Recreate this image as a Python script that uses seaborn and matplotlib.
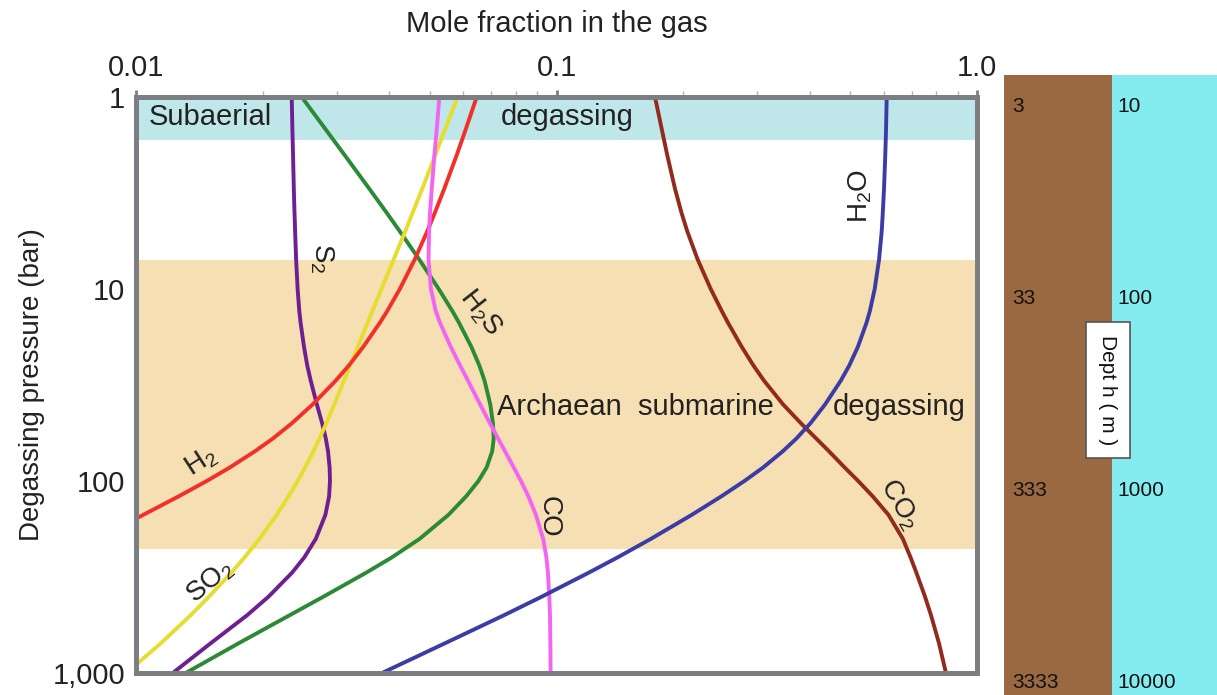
import matplotlib
matplotlib.use("Agg")
import matplotlib.pyplot as plt
import pandas as pd
import seaborn as sns
from matplotlib.ticker import LogLocator, NullFormatter, NullLocator

# degassing pressures (bar) at which the curves were read
P = [1, 1.5, 2, 3, 4, 5, 7, 10, 13, 15, 20, 25, 30, 40, 50, 60, 70, 85,
     100, 120, 150, 200, 250, 300, 400, 500, 700, 1000]

# mole fraction in the gas
S2 = [0.02346, 0.02355, 0.02363, 0.02373, 0.02382, 0.02390, 0.02403, 0.02423,
      0.02445, 0.02463, 0.02509, 0.02554, 0.02603, 0.02693, 0.02771, 0.02827,
      0.02862, 0.02887, 0.02893, 0.02879, 0.02821, 0.02677, 0.02513, 0.02351,
      0.02067, 0.01838, 0.01505, 0.01223]
H2S = [0.02478, 0.02841, 0.03131, 0.03586, 0.03943, 0.04238, 0.04712, 0.05247,
       0.05651, 0.05865, 0.06273, 0.06553, 0.06743, 0.06960, 0.07060, 0.07091,
       0.07033, 0.06820, 0.06521, 0.06101, 0.05535, 0.04728, 0.04059, 0.03529,
       0.02793, 0.02320, 0.01754, 0.01313]
CO = [0.05264, 0.05187, 0.05125, 0.05051, 0.05004, 0.04978, 0.04962, 0.05027,
      0.05161, 0.05284, 0.05605, 0.05897, 0.06158, 0.06585, 0.06944, 0.07259,
      0.07544, 0.07913, 0.08231, 0.08570, 0.08934, 0.09294, 0.09463, 0.09541,
      0.09614, 0.09650, 0.09671, 0.09682]
CO2 = [0.1715, 0.1783, 0.1833, 0.1913, 0.1982, 0.2046, 0.2165, 0.2327,
       0.2471, 0.2558, 0.2757, 0.2939, 0.3114, 0.3461, 0.3812, 0.4143,
       0.4446, 0.4843, 0.5218, 0.5646, 0.6158, 0.6663, 0.6950, 0.7174,
       0.7522, 0.7773, 0.8121, 0.8438]
H2O = [0.6099, 0.6076, 0.6052, 0.6010, 0.5970, 0.5935, 0.5850, 0.5711,
       0.5563, 0.5460, 0.5209, 0.4970, 0.4744, 0.4350, 0.4018, 0.3722,
       0.3453, 0.3101, 0.2798, 0.2469, 0.2098, 0.1678, 0.1397, 0.1194,
       0.09232, 0.07503, 0.05430, 0.03846]

# these two leave the plot through the left edge
P_SO2 = [1, 1.5, 2, 3, 4, 5, 7, 10, 13, 15, 20, 25, 30, 40, 50, 60, 70, 85,
         100, 120, 150, 200, 250, 300, 400, 500, 700, 905]
SO2 = [0.05821, 0.05416, 0.05152, 0.04796, 0.04550, 0.04369, 0.04101, 0.03836,
       0.03651, 0.03554, 0.03370, 0.03232, 0.03124, 0.02960, 0.02836, 0.02733,
       0.02642, 0.02525, 0.02424, 0.02307, 0.02162, 0.01966, 0.01812, 0.01686,
       0.01492, 0.01349, 0.01146, 0.0100]
P_H2 = [1, 1.5, 2, 3, 4, 5, 7, 10, 13, 15, 20, 25, 30, 40, 50, 60, 70, 85,
        100, 120, 150, 157]
H2 = [0.0646, 0.06066, 0.05794, 0.05410, 0.05139, 0.04929, 0.04603, 0.04240,
      0.03960, 0.03801, 0.03471, 0.03209, 0.02986, 0.02628, 0.02349, 0.02118,
      0.01918, 0.01672, 0.01473, 0.01265, 0.01041, 0.0100]

# pressure ranges of the two degassing settings (bar)
SUBAERIAL = (1, 1.68)
SUBMARINE = (7.1, 226)

# depth scales next to the pressure axis
DEPTH_P = [1, 10, 100, 1000]
ROCK_DEPTH = ["3", "33", "333", "3333"]
WATER_DEPTH = ["10", "100", "1000", "10000"]

COLORS = {
    "S2": "#6e1f92", "H2S": "#2b8a36", "SO2": "#e6dd2e", "H2": "#f2302a",
    "CO": "#f265f2", "CO2": "#932b1c", "H2O": "#3b3ca6",
}
GRAY = "#7b7e83"

frames = []
for name, pres, frac in [("S2", P, S2), ("H2S", P, H2S), ("SO2", P_SO2, SO2),
                         ("H2", P_H2, H2), ("CO", P, CO), ("CO2", P, CO2),
                         ("H2O", P, H2O)]:
    frames.append(pd.DataFrame({"gas": name, "pressure": pres, "fraction": frac}))
df = pd.concat(frames, ignore_index=True)

sns.set_style("white")
plt.rcParams["font.family"] = ["Liberation Sans", "DejaVu Sans"]
plt.rcParams["mathtext.default"] = "regular"

W, H = 1217, 695
fig = plt.figure(figsize=(W / 100, H / 100), dpi=100)
ax = fig.add_axes([136 / W, 22 / H, 841 / W, 576 / H])
ax.set_xscale("log")
ax.set_yscale("log")

ax.axhspan(*SUBAERIAL, color="#bfe6e8", lw=0, zorder=0)
ax.axhspan(*SUBMARINE, color="#f6dfb2", lw=0, zorder=0)

sns.lineplot(data=df, x="fraction", y="pressure", hue="gas", palette=COLORS,
             sort=False, estimator=None, legend=False, linewidth=2.8, ax=ax)

ax.set_xlim(0.01, 1.0)
ax.set_ylim(1000, 1)

ax.xaxis.tick_top()
ax.xaxis.set_label_position("top")
ax.set_xticks([0.01, 0.1, 1.0], ["0.01", "0.1", "1.0"])
ax.xaxis.set_minor_locator(LogLocator(base=10, subs=range(2, 10)))
ax.xaxis.set_minor_formatter(NullFormatter())
ax.set_yticks([1, 10, 100, 1000], ["1", "10", "100", "1,000"])
ax.yaxis.set_minor_locator(NullLocator())
ax.tick_params(axis="x", which="major", direction="out", length=5, width=2,
               color=GRAY, pad=6, labelsize=21, labelcolor="#222222")
ax.tick_params(axis="x", which="minor", direction="out", length=4, width=1,
               color="#b0b3b8")
ax.tick_params(axis="y", which="major", direction="out", length=5, width=2,
               color=GRAY, pad=3, labelsize=21, labelcolor="#222222")
ax.set_xlabel("Mole fraction in the gas", fontsize=21, labelpad=16, color="#222222")
ax.set_ylabel("Degassing pressure (bar)", fontsize=20, labelpad=5, color="#222222")
for sp in ax.spines.values():
    sp.set_color(GRAY)
    sp.set_linewidth(3.6)
    sp.set_visible(True)

txt = dict(fontsize=21, color="#222222", zorder=5)
ax.text(0.0107, 1.27, "Subaerial", va="center", ha="left", **txt)
ax.text(0.0735, 1.27, "degassing", va="center", ha="left", **txt)
ax.text(0.0723, 41, "Archaean  submarine", va="center", ha="left", **txt)
ax.text(0.4545, 41, "degassing", va="center", ha="left", **txt)

lab = dict(fontsize=20, color="#222222", ha="center", va="center", zorder=5)
ax.text(0.0277, 6.9, r"S$_2$", rotation=-90, **lab)
ax.text(0.0661, 13.3, r"H$_2$S", rotation=-52, **lab)
ax.text(0.0143, 79, r"H$_2$", rotation=33, **lab)
ax.text(0.0150, 336, r"SO$_2$", rotation=40, **lab)
ax.text(0.0960, 154, "CO", rotation=-90, **lab)
ax.text(0.652, 133, r"CO$_2$", rotation=-60, **lab)
ax.text(0.527, 3.28, r"H$_2$O", rotation=90, **lab)

# depth columns: rock (brown) and water (cyan)
sax = fig.add_axes([1004 / W, 0, 213 / W, 620 / H])
sax.set_yscale("log")
sax.set_xlim(0, 2)
sax.set_ylim(1303, 0.768)
sax.axvspan(0, 1.015, color="#9a6942", lw=0)
sax.axvspan(1.015, 2, color="#84ebf1", lw=0)
sax.axis("off")
for p, r, w in zip(DEPTH_P, ROCK_DEPTH, WATER_DEPTH):
    sax.text(0.08, p * 1.12, r, fontsize=15, va="center", ha="left", color="#111111")
    sax.text(1.06, p * 1.12, w, fontsize=15, va="center", ha="left", color="#111111")

fig.text(1108 / W, 1 - 390 / H, "Dept h ( m )", rotation=-90, fontsize=15,
         ha="center", va="center", color="#111111",
         bbox=dict(boxstyle="square,pad=0.6", facecolor="white",
                   edgecolor="#555555", linewidth=1.2))

fig.savefig("out.png", dpi=100)
